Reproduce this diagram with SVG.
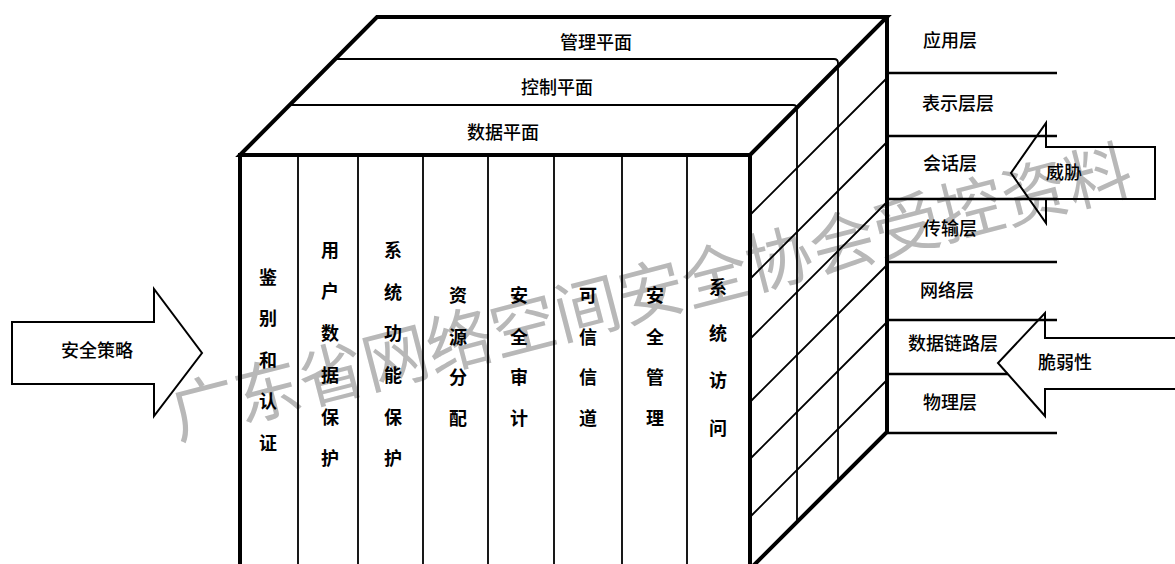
<svg xmlns="http://www.w3.org/2000/svg" width="1175" height="564" viewBox="0 0 1175 564">
<style>
.thick{fill:none;stroke:#000;stroke-width:4;stroke-linejoin:miter;stroke-linecap:square}
.thin{fill:none;stroke:#000;stroke-width:1.8}
.mid{fill:none;stroke:#000;stroke-width:2.6}
.arrow{fill:none;stroke:#000;stroke-width:2;stroke-linejoin:miter}
.lbl{font-family:"Noto Sans CJK SC",sans-serif;font-size:18px;font-weight:500;fill:#000;text-anchor:middle}
.col{font-family:"Noto Sans CJK SC",sans-serif;font-size:18px;font-weight:bold;fill:#000;text-anchor:middle}
.wm{font-family:"Noto Sans CJK SC",sans-serif;font-size:66px;fill:#b8b8b8;text-anchor:middle}
</style>
<rect width="1175" height="564" fill="#fff"/>
<g id="watermark">
<text class="wm" x="651" y="316" transform="rotate(-14.5 651 292)">广东省网络空间安全协会受控资料</text>
</g>
<g id="cube">
<g id="top-face">
<path class="thick" d="M240,155 L377,17 H887 L750,155 Z"/>
<path class="thin" d="M335,59 H834 Q838,59 838,63"/>
<path class="thin" d="M289,105 H793 Q797,105 797,109"/>
<text class="lbl" x="596" y="49">管理平面</text>
<text class="lbl" x="557" y="94">控制平面</text>
<text class="lbl" x="503" y="139">数据平面</text>
</g>
<g id="side-wall">
<path class="thin" d="M838,63 V481 M797,109 V522"/>
<path class="thin" d="M887,78 L750,215 M887,142 L750,279 M887,202 L750,339 M887,265 L750,402 M887,322 L750,459 M887,380 L750,517"/>
<path class="thick" d="M887,17 V432 L752,567"/>
</g>
<g id="front-face">
<path class="thin" d="M298,155 V564 M358,155 V564 M423,155 V564 M488,155 V564 M554,155 V564 M622,155 V564 M687,155 V564"/>
<path class="thick" d="M240,155 V566 M750,155 V566 M240,155 H750"/>
</g>
<g id="col-1"><text class="col"><tspan x="268" y="284">鉴</tspan><tspan x="268" y="325">别</tspan><tspan x="268" y="367">和</tspan><tspan x="268" y="408">认</tspan><tspan x="268" y="450">证</tspan></text></g>
<g id="col-2"><text class="col"><tspan x="330" y="257">用</tspan><tspan x="330" y="298">户</tspan><tspan x="330" y="340">数</tspan><tspan x="330" y="382">据</tspan><tspan x="330" y="424">保</tspan><tspan x="330" y="465">护</tspan></text></g>
<g id="col-3"><text class="col"><tspan x="393" y="257">系</tspan><tspan x="393" y="299">统</tspan><tspan x="393" y="340">功</tspan><tspan x="393" y="382">能</tspan><tspan x="393" y="424">保</tspan><tspan x="393" y="465">护</tspan></text></g>
<g id="col-4"><text class="col"><tspan x="458" y="302">资</tspan><tspan x="458" y="344">源</tspan><tspan x="458" y="384">分</tspan><tspan x="458" y="425">配</tspan></text></g>
<g id="col-5"><text class="col"><tspan x="519" y="302">安</tspan><tspan x="519" y="344">全</tspan><tspan x="519" y="384">审</tspan><tspan x="519" y="425">计</tspan></text></g>
<g id="col-6"><text class="col"><tspan x="588" y="302">可</tspan><tspan x="588" y="344">信</tspan><tspan x="588" y="384">信</tspan><tspan x="588" y="425">道</tspan></text></g>
<g id="col-7"><text class="col"><tspan x="655" y="302">安</tspan><tspan x="655" y="344">全</tspan><tspan x="655" y="384">管</tspan><tspan x="655" y="425">理</tspan></text></g>
<g id="col-8"><text class="col"><tspan x="718" y="294">系</tspan><tspan x="718" y="340">统</tspan><tspan x="718" y="387">访</tspan><tspan x="718" y="435">问</tspan></text></g>
</g>
<g id="connectors">
<path class="mid" d="M887,73 H1057 M887,136 H1057 M887,199 H1057 M887,262 H1057 M887,320 H1057 M887,374 H1008 M887,433 H1057"/>
</g>
<g id="osi-layers">
<text class="lbl" x="950" y="47">应用层</text>
<text class="lbl" x="958" y="110">表示层层</text>
<text class="lbl" x="950" y="170">会话层</text>
<text class="lbl" x="950" y="235">传输层</text>
<text class="lbl" x="947" y="297">网络层</text>
<text class="lbl" x="953" y="350">数据链路层</text>
<text class="lbl" x="950" y="409">物理层</text>
</g>
<g id="arrow-policy">
<path class="arrow" d="M12,322 H154 V289 L202,353 L154,416 V384 H12 Z"/>
<text class="lbl" x="97" y="357">安全策略</text>
</g>
<g id="arrow-threat">
<path class="arrow" d="M1155,147 H1046 V123 L1011,173 L1046,223 V199 H1155 Z"/>
<text class="lbl" x="1064" y="179">威胁</text>
</g>
<g id="arrow-vuln">
<path class="arrow" d="M1180,338 H1045 V313 L998,363 L1045,416 V389 H1180"/>
<text class="lbl" x="1065" y="369">脆弱性</text>
</g>
</svg>
